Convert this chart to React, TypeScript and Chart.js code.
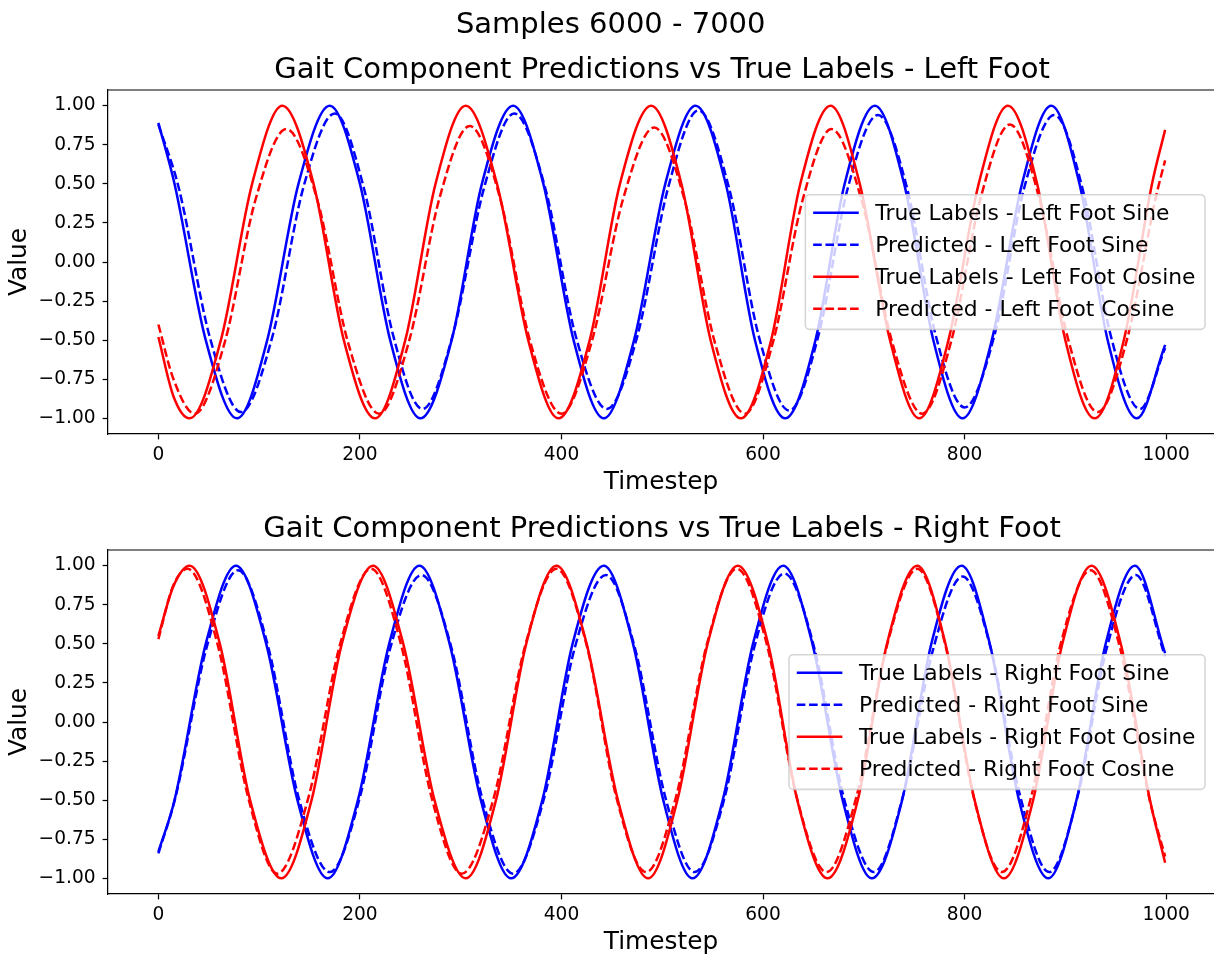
import React, { useEffect, useRef } from 'react';
import { Chart, registerables } from 'chart.js';

Chart.register(...registerables);

const FONT = '"DejaVu Sans", "Liberation Sans", sans-serif';

const SUPTITLE = 'Samples 6000 - 7000';
const TITLE_LEFT = 'Gait Component Predictions vs True Labels - Left Foot';
const TITLE_RIGHT = 'Gait Component Predictions vs True Labels - Right Foot';
const X_LABEL = 'Timestep';
const Y_LABEL = 'Value';

const xTicks = [0, 200, 400, 600, 800, 1000];
const yTicks = [-1, -0.75, -0.5, -0.25, 0, 0.25, 0.5, 0.75, 1];

// ---- Left foot ----
const leftSineTrueX = [0, 16, 47, 78, 108, 139, 170, 200, 230, 260, 291, 321, 352, 382, 412, 442, 472, 503, 533, 563, 592, 622, 652, 681, 711, 740, 769, 798, 827, 857, 886, 914, 942, 971, 999];
const leftSineTrueY = [0.89, 0.5, -0.5, -1, -0.5, 0.5, 1, 0.5, -0.5, -1, -0.5, 0.5, 1, 0.5, -0.5, -1, -0.5, 0.5, 1, 0.5, -0.5, -1, -0.5, 0.5, 1, 0.5, -0.5, -1, -0.5, 0.5, 1, 0.5, -0.5, -1, -0.53];

const leftSinePredX = [0, 20, 51, 82, 113, 144, 175, 204, 233, 262, 292, 323, 353, 384, 414, 445, 475, 506, 536, 566, 596, 626, 655, 684, 714, 743, 771, 800, 830, 859, 889, 917, 945, 974, 999];
const leftSinePredY = [0.88, 0.48, -0.48, -0.96, -0.48, 0.48, 0.95, 0.47, -0.47, -0.94, -0.47, 0.47, 0.95, 0.47, -0.47, -0.94, -0.48, 0.48, 0.97, 0.48, -0.48, -0.95, -0.47, 0.47, 0.94, 0.47, -0.46, -0.93, -0.46, 0.47, 0.94, 0.47, -0.47, -0.94, -0.55];

const leftCosTrueX = [0, 15, 31, 62, 93, 123, 154, 184, 215, 245, 275, 305, 336, 367, 397, 428, 458, 489, 519, 548, 578, 608, 637, 667, 696, 726, 755, 784, 814, 843, 872, 900, 929, 958, 986, 999];
const leftCosTrueY = [-0.48, -0.86, -1, -0.5, 0.5, 1, 0.5, -0.5, -1, -0.5, 0.5, 1, 0.5, -0.5, -1, -0.5, 0.5, 1, 0.5, -0.5, -1, -0.5, 0.5, 1, 0.5, -0.5, -1, -0.5, 0.5, 1, 0.5, -0.5, -1, -0.5, 0.5, 0.845];

const leftCosPredX = [0, 15, 36, 66, 96, 127, 158, 188, 219, 249, 279, 309, 339, 369, 400, 430, 461, 492, 522, 552, 582, 610, 639, 668, 698, 728, 758, 787, 816, 845, 874, 903, 932, 961, 990, 999];
const leftCosPredY = [-0.40, -0.75, -0.97, -0.51, 0.39, 0.85, 0.39, -0.51, -0.97, -0.50, 0.41, 0.87, 0.41, -0.51, -0.97, -0.51, 0.40, 0.86, 0.40, -0.51, -0.97, -0.51, 0.39, 0.85, 0.39, -0.51, -0.97, -0.50, 0.41, 0.88, 0.41, -0.50, -0.96, -0.50, 0.42, 0.65];

// ---- Right foot ----
const rightSineTrueX = [0, 16, 47, 77, 107, 138, 168, 198, 229, 259, 289, 320, 350, 381, 411, 442, 471, 501, 530, 560, 590, 620, 649, 679, 708, 738, 767, 797, 825, 854, 883, 911, 940, 969, 999];
const rightSineTrueY = [-0.83, -0.5, 0.5, 1, 0.5, -0.5, -1, -0.5, 0.5, 1, 0.5, -0.5, -1, -0.5, 0.5, 1, 0.5, -0.5, -1, -0.5, 0.5, 1, 0.5, -0.5, -1, -0.5, 0.5, 1, 0.5, -0.5, -1, -0.5, 0.5, 1, 0.44];

const rightSinePredX = [0, 17, 48, 79, 109, 139, 170, 200, 230, 261, 291, 321, 352, 383, 413, 444, 473, 503, 532, 562, 591, 621, 651, 680, 710, 739, 769, 798, 826, 855, 884, 912, 941, 970, 999];
const rightSinePredY = [-0.84, -0.48, 0.48, 0.97, 0.48, -0.48, -0.96, -0.48, 0.47, 0.94, 0.47, -0.48, -0.97, -0.48, 0.47, 0.94, 0.47, -0.48, -0.96, -0.48, 0.47, 0.95, 0.47, -0.48, -0.96, -0.47, 0.47, 0.93, 0.47, -0.47, -0.96, -0.48, 0.47, 0.94, 0.42];

const rightCosTrueX = [0, 15, 31, 61, 91, 122, 152, 182, 213, 243, 274, 305, 335, 365, 395, 425, 456, 486, 515, 545, 575, 605, 634, 664, 694, 723, 753, 781, 810, 839, 868, 897, 926, 955, 984, 999];
const rightCosTrueY = [0.55, 0.87, 1, 0.5, -0.5, -1, -0.5, 0.5, 1, 0.5, -0.5, -1, -0.5, 0.5, 1, 0.5, -0.5, -1, -0.5, 0.5, 1, 0.5, -0.5, -1, -0.5, 0.5, 1, 0.5, -0.5, -1, -0.5, 0.5, 1, 0.5, -0.5, -0.90];

const rightCosPredX = [0, 14, 29, 59, 89, 118, 149, 180, 211, 241, 271, 301, 333, 364, 395, 425, 454, 484, 514, 544, 574, 604, 633, 663, 693, 723, 753, 781, 809, 837, 866, 895, 925, 954, 983, 999];
const rightCosPredY = [0.53, 0.86, 0.98, 0.49, -0.48, -0.97, -0.48, 0.49, 0.98, 0.49, -0.48, -0.97, -0.48, 0.49, 0.98, 0.49, -0.47, -0.96, -0.47, 0.49, 0.98, 0.49, -0.47, -0.96, -0.47, 0.49, 0.98, 0.49, -0.48, -0.96, -0.48, 0.49, 0.97, 0.48, -0.48, -0.86];

const leftLabels = ['True Labels - Left Foot Sine', 'Predicted - Left Foot Sine', 'True Labels - Left Foot Cosine', 'Predicted - Left Foot Cosine'];
const rightLabels = ['True Labels - Right Foot Sine', 'Predicted - Right Foot Sine', 'True Labels - Right Foot Cosine', 'Predicted - Right Foot Cosine'];
const seriesColors = ['#0000ff', '#0000ff', '#ff0000', '#ff0000'];
const seriesDashed = [false, true, false, true];

const LINE_W = 2.5;
const DASH = [8.6, 3.7];
const LEGEND_FONT = 21.8;
const TITLE_FONT = 29;

type Panel = {
  height: number;
  padTop: number;
  xAxisH: number;
  xTitlePad: number;
  labels: string[];
  xs: number[][];
  ys: number[][];
  titles: { text: string; x: number; y: number }[];
};

function makePlugin(panel: Panel) {
  return {
    id: 'mplDecor',
    afterDatasetsDraw(chart: any) {
      const ctx = chart.ctx as CanvasRenderingContext2D;
      const a = chart.chartArea;
      ctx.save();
      // top spine
      ctx.strokeStyle = '#000';
      ctx.lineWidth = 1.24;
      ctx.setLineDash([]);
      ctx.beginPath();
      ctx.moveTo(a.left - 0.62, a.top);
      ctx.lineTo(a.right + 1, a.top);
      ctx.stroke();

      // legend
      ctx.font = `${LEGEND_FONT}px ${FONT}`;
      let maxW = 0;
      panel.labels.forEach((l) => {
        maxW = Math.max(maxW, ctx.measureText(l).width);
      });
      const right = 1205;
      const w = 70 + maxW + 9.5;
      const left = right - w;
      const h = 134.7;
      const cy = (a.top + a.bottom) / 2;
      const top = cy - h / 2;
      const r = 4.3;
      ctx.beginPath();
      ctx.moveTo(left + r, top);
      ctx.lineTo(right - r, top);
      ctx.arcTo(right, top, right, top + r, r);
      ctx.lineTo(right, top + h - r);
      ctx.arcTo(right, top + h, right - r, top + h, r);
      ctx.lineTo(left + r, top + h);
      ctx.arcTo(left, top + h, left, top + h - r, r);
      ctx.lineTo(left, top + r);
      ctx.arcTo(left, top, left + r, top, r);
      ctx.closePath();
      ctx.fillStyle = 'rgba(255,255,255,0.8)';
      ctx.fill();
      ctx.strokeStyle = 'rgba(204,204,204,0.8)';
      ctx.lineWidth = 1.55;
      ctx.stroke();

      panel.labels.forEach((l, i) => {
        const rowY = top + 18 + i * 32;
        ctx.beginPath();
        ctx.strokeStyle = seriesColors[i];
        ctx.lineWidth = LINE_W;
        ctx.lineCap = 'butt';
        ctx.setLineDash(seriesDashed[i] ? DASH : []);
        ctx.moveTo(left + 7.8, rowY);
        ctx.lineTo(left + 53.4, rowY);
        ctx.stroke();
        ctx.setLineDash([]);
        ctx.fillStyle = '#000';
        ctx.textAlign = 'left';
        ctx.textBaseline = 'alphabetic';
        ctx.fillText(l, left + 70, rowY + 7.8);
      });

      // titles
      ctx.font = `${TITLE_FONT}px ${FONT}`;
      ctx.fillStyle = '#000';
      ctx.textAlign = 'center';
      ctx.textBaseline = 'alphabetic';
      panel.titles.forEach((t) => ctx.fillText(t.text, t.x, t.y));
      ctx.restore();
    },
  };
}

function makeConfig(panel: Panel): any {
  return {
    type: 'line',
    data: {
      datasets: panel.labels.map((label, i) => ({
        label,
        data: panel.xs[i].map((x, j) => ({ x, y: panel.ys[i][j] })),
        borderColor: seriesColors[i],
        backgroundColor: seriesColors[i],
        borderWidth: LINE_W,
        borderDash: seriesDashed[i] ? DASH : [],
        borderCapStyle: 'butt',
        borderJoinStyle: 'round',
        pointRadius: 0,
        pointHoverRadius: 0,
        fill: false,
        cubicInterpolationMode: 'monotone',
        order: 4 - i,
      })),
    },
    options: {
      responsive: false,
      animation: false,
      devicePixelRatio: 1,
      events: [],
      layout: { padding: { top: panel.padTop, left: 0, right: 0, bottom: 0 } },
      plugins: {
        legend: { display: false },
        tooltip: { enabled: false },
        title: { display: false },
      },
      scales: {
        x: {
          type: 'linear',
          min: -50,
          max: 1047.5,
          afterBuildTicks: (s: any) => {
            s.ticks = xTicks.map((v) => ({ value: v }));
          },
          afterFit: (s: any) => {
            s.height = panel.xAxisH;
          },
          ticks: {
            font: { family: FONT, size: 18.6 },
            color: '#000',
            padding: 5,
            maxRotation: 0,
            autoSkip: false,
            callback: (v: any) => String(v),
          },
          grid: {
            drawOnChartArea: false,
            drawTicks: true,
            tickLength: 5.4,
            tickWidth: 1.24,
            tickColor: '#000',
          },
          border: { display: true, color: '#000', width: 1.24 },
          title: {
            display: true,
            text: X_LABEL,
            color: '#000',
            font: { family: FONT, size: 24.8 },
            padding: { top: 0, bottom: panel.xTitlePad },
          },
        },
        y: {
          type: 'linear',
          min: -1.1,
          max: 1.1,
          afterBuildTicks: (s: any) => {
            s.ticks = yTicks.map((v) => ({ value: v }));
          },
          afterFit: (s: any) => {
            s.width = 108;
          },
          ticks: {
            font: { family: FONT, size: 18.6 },
            color: '#000',
            padding: 7,
            autoSkip: false,
            callback: (v: any) => (v < 0 ? '\u2212' : '') + Math.abs(v).toFixed(2),
          },
          grid: {
            drawOnChartArea: false,
            drawTicks: true,
            tickLength: 5.4,
            tickWidth: 1.24,
            tickColor: '#000',
          },
          border: { display: true, color: '#000', width: 1.24 },
          title: {
            display: true,
            text: Y_LABEL,
            color: '#000',
            font: { family: FONT, size: 24.8 },
            padding: { top: 4.8, bottom: 0 },
          },
        },
      },
    },
    plugins: [makePlugin(panel)],
  };
}

const topPanel: Panel = {
  height: 500,
  padTop: 90,
  xAxisH: 66,
  xTitlePad: 2.4,
  labels: leftLabels,
  xs: [leftSineTrueX, leftSinePredX, leftCosTrueX, leftCosPredX],
  ys: [leftSineTrueY, leftSinePredY, leftCosTrueY, leftCosPredY],
  titles: [
    { text: SUPTITLE, x: 610.7, y: 33.3 },
    { text: TITLE_LEFT, x: 662, y: 77.7 },
  ],
};

const bottomPanel: Panel = {
  height: 459,
  padTop: 50,
  xAxisH: 65,
  xTitlePad: 1.4,
  labels: rightLabels,
  xs: [rightSineTrueX, rightSinePredX, rightCosTrueX, rightCosPredX],
  ys: [rightSineTrueY, rightSinePredY, rightCosTrueY, rightCosPredY],
  titles: [{ text: TITLE_RIGHT, x: 662, y: 37.3 }],
};

function PanelChart({ panel, top }: { panel: Panel; top: number }) {
  const ref = useRef<HTMLCanvasElement | null>(null);
  useEffect(() => {
    if (!ref.current) return;
    const chart = new Chart(ref.current, makeConfig(panel));
    return () => chart.destroy();
  }, [panel]);
  return (
    <canvas
      ref={ref}
      width={1214}
      height={panel.height}
      style={{ position: 'absolute', left: 0, top, width: 1214, height: panel.height, display: 'block' }}
    />
  );
}

export default function App() {
  return (
    <div
      style={{
        position: 'absolute',
        left: 0,
        top: 0,
        width: 1214,
        height: 959,
        background: '#fff',
        overflow: 'hidden',
      }}
    >
      <PanelChart panel={topPanel} top={0} />
      <PanelChart panel={bottomPanel} top={500} />
    </div>
  );
}
